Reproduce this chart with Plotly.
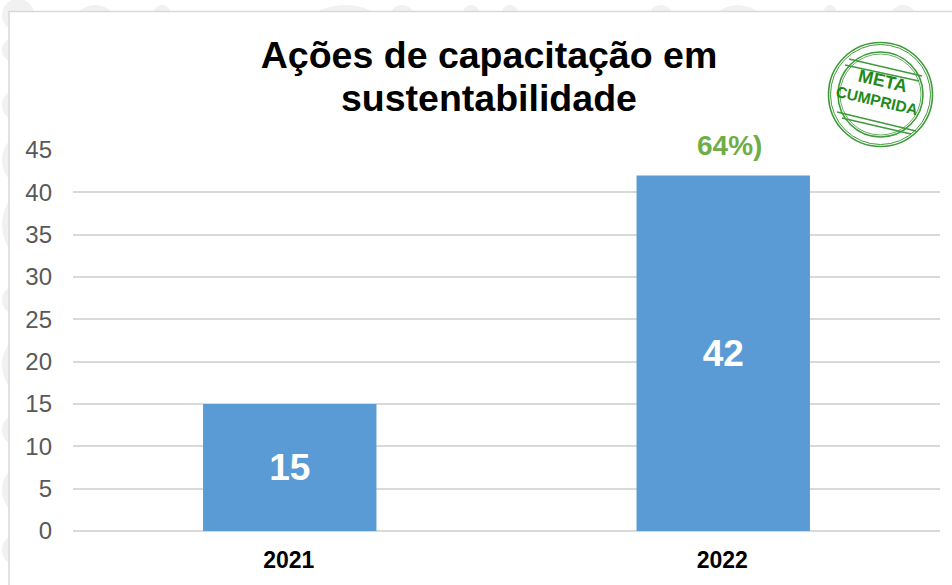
import plotly.graph_objects as go

categories = ["2021", "2022"]
values = [15, 42]
title_lines = ["Ações de capacitação em", "sustentabilidade"]
note_text = "64%)"
note_category = "2022"
y_ticks = [0, 5, 10, 15, 20, 25, 30, 35, 40, 45]

W, H = 952, 585
L, R, T, B = 73, 12, 150, 54
PW, PH = W - L - R, H - T - B

def px(x):
    return (x - L) / PW

def py(y):
    return 1 - (y - T) / PH

fig = go.Figure()
fig.add_trace(go.Bar(
    x=categories, y=values, width=0.4,
    marker=dict(color="#5B9BD5", line=dict(width=0)),
    text=[str(v) for v in values], textposition="inside",
    insidetextanchor="middle", constraintext="none",
    textangle=0,
    textfont=dict(family="Liberation Sans", size=37, color="white", weight="bold"),
    hoverinfo="skip",
))

shapes = []
# faint background emblem that peeks out around the chart frame (caps of filled circles)
FAINT = "#F1F1F1"
for (xc, w) in [(95, 36), (162, 17), (345, 58), (402, 25), (471, 16), (510, 16),
                (661, 25), (738, 43), (830, 12), (903, 26)]:
    r = max(w * w / 56, w / 2)
    shapes.append(dict(type="circle", xref="paper", yref="paper",
                       x0=px(xc - r), x1=px(xc + r), y0=py(5), y1=py(5 + 2 * r),
                       line=dict(width=0), fillcolor=FAINT, layer="below"))
for (yc, w) in [(15, 30), (50, 25), (105, 30), (160, 40), (225, 50), (300, 28),
                (365, 45), (430, 30), (490, 40), (550, 30)]:
    r = max(w * w / 56, w / 2)
    shapes.append(dict(type="circle", xref="paper", yref="paper",
                       x0=px(2), x1=px(2 + 2 * r), y0=py(yc - r), y1=py(yc + r),
                       line=dict(width=0), fillcolor=FAINT, layer="below"))
shapes.append(dict(type="rect", xref="paper", yref="paper", x0=px(9), x1=px(960), y0=py(11.5), y1=py(600),
                   line=dict(color="#D9D9D9", width=1.5), fillcolor="white", layer="below"))

STAMP = "#3F9A3A"
cx, cy = 880.5, 94.5
for r, w in [(52, 1.6), (50, 1), (42.5, 1.6), (40.5, 0.8)]:
    shapes.append(dict(type="circle", xref="paper", yref="paper",
                       x0=px(cx - r), x1=px(cx + r), y0=py(cy - r), y1=py(cy + r),
                       line=dict(color=STAMP, width=w), layer="above"))
for (x0, y0, x1, y1) in [(849, 59, 922, 76), (845, 65, 919, 81), (837, 112, 916, 131), (842, 118, 911, 134)]:
    shapes.append(dict(type="line", xref="paper", yref="paper", x0=px(x0), x1=px(x1), y0=py(y0), y1=py(y1),
                       line=dict(color=STAMP, width=1.4), layer="above"))

def ptext(x, y, text, size, color, angle=0):
    return dict(x=px(x), y=py(y), xref="paper", yref="paper", text=text, showarrow=False, textangle=angle,
                xanchor="center", yanchor="middle",
                font=dict(family="Liberation Sans", size=size, color=color, weight="bold"))

annotations = [
    dict(x=categories.index(note_category), y=45, yref="y", xref="x", text=note_text, showarrow=False,
         xanchor="center", yanchor="middle", yshift=5, xshift=6,
         font=dict(family="Liberation Sans", size=28, color="#70AD47", weight="bold")),
    ptext(883, 81, "META", 18, "#1F8A1A", 13),
    ptext(877, 101, "CUMPRIDA", 15.5, "#1F8A1A", 13),
    ptext(489, 98, title_lines[1], 37.5, "black"),
]

fig.update_layout(
    width=W, height=H, autosize=False,
    margin=dict(l=L, r=R, t=T, b=B, pad=0),
    paper_bgcolor="white", plot_bgcolor="rgba(0,0,0,0)",
    showlegend=False, shapes=shapes, annotations=annotations,
    title=dict(text=title_lines[0], x=489 / W, xanchor="center", xref="container",
               y=1 - 55 / H, yanchor="middle", yref="container",
               font=dict(family="Liberation Sans", size=37.5, color="black", weight="bold")),
    xaxis=dict(type="category", categoryorder="array", categoryarray=categories, range=[-0.5, 1.5],
               showgrid=False, showline=False, ticks="", ticklabelstandoff=13, ticklabelshift=-1,
               tickfont=dict(family="Liberation Sans", size=23, color="black", weight="bold")),
    yaxis=dict(range=[0, 45], tickvals=y_ticks, showgrid=True, gridcolor="#D9D9D9", gridwidth=1.5,
               zeroline=True, zerolinecolor="#D9D9D9", zerolinewidth=1.5, showline=False, ticks="",
               ticklabelstandoff=20,
               tickfont=dict(family="Liberation Sans", size=24, color="#595959")),
)
fig.write_html("out.html", post_script="document.body.style.margin='0';",
               config=dict(displayModeBar=False))
